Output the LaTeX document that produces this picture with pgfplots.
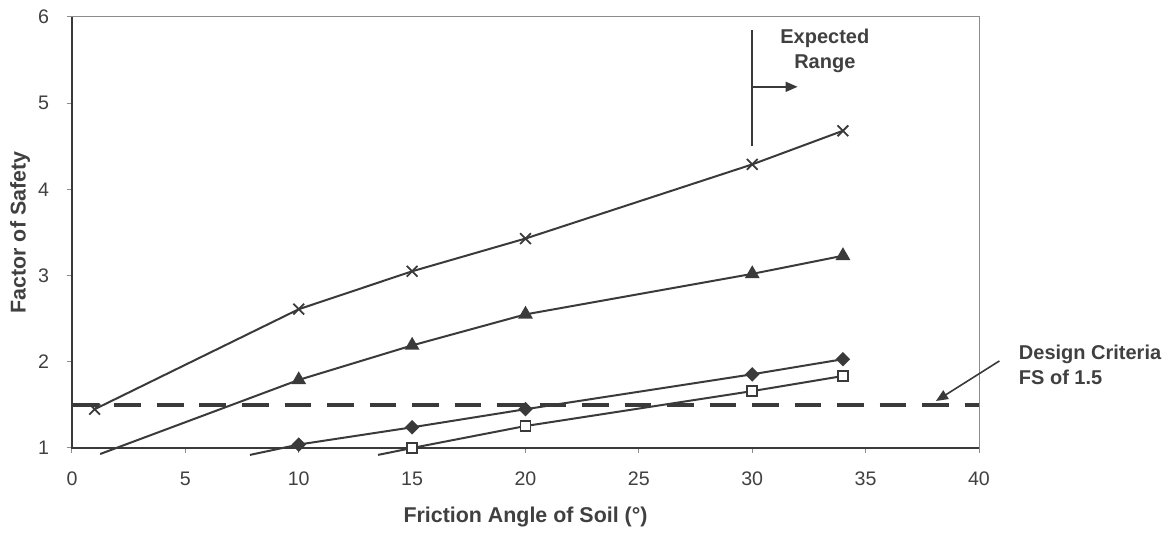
\documentclass[border=0pt]{standalone}
\usepackage{pgfplots}
\pgfplotsset{compat=1.18}
\usepackage{fontspec}
\setmainfont{Liberation Sans}
\usetikzlibrary{arrows.meta}
\definecolor{ink}{HTML}{3A3A3A}
\definecolor{txt}{HTML}{404040}
\definecolor{frame}{HTML}{8C8C8C}
\begin{document}
\begin{tikzpicture}
\begin{axis}[
  scale only axis, width=453.5pt, height=215.5pt,
  xmin=0, xmax=40, ymin=1, ymax=6,
  xtick={0,5,...,40}, ytick={1,2,...,6},
  xtick pos=bottom, ytick pos=left,
  tick align=outside, major tick length=2.5pt,
  tick style={color=frame, line width=0.5pt},
  axis line style={color=frame, line width=0.5pt},
  clip=false,
  /pgf/number format/assume math mode=true,
  ticklabel style={font=\fontsize{9.8}{11}\selectfont, text=txt},
  xticklabel style={yshift=-6pt},
  yticklabel style={xshift=-5.5pt},
  xlabel={Friction Angle of Soil (°)},
  ylabel={Factor of Safety},
  label style={font=\bfseries\fontsize{10.7}{12}\selectfont, text=txt},
  xlabel style={at={(axis description cs:0.5,-0.16)}, anchor=center},
  ylabel style={at={(axis description cs:-0.0573,0.5)}, anchor=center},
]
% design criterion
\addplot[ink, line width=2.3pt, dash pattern=on 13.3pt off 7.95pt] coordinates {(0,1.5) (40,1.5)};
% series (first point of some series is where the line leaves the plot area)
\addplot[ink, line width=1pt, mark=x, mark size=3.8pt, mark options={line width=0.9pt}]
  coordinates {(1,1.45) (10,2.61) (15,3.05) (20,3.43) (30,4.29) (34,4.68)};
\addplot[ink, line width=1pt, mark=triangle*, mark size=3.3pt, mark indices={2,3,4,5,6}, mark options={fill=ink}]
  coordinates {(1.24,0.93) (10,1.79) (15,2.19) (20,2.55) (30,3.02) (34,3.23)};
\addplot[ink, line width=1pt, mark=square*, mark size=2.05pt, mark indices={2,3,4,5,6}, mark options={fill=ink, rotate=45}]
  coordinates {(7.85,0.92) (10,1.04) (15,1.24) (20,1.45) (30,1.855) (34,2.03)};
\addplot[ink, line width=1pt, mark=square*, mark size=2.5pt, mark indices={2,3,4,5}, mark options={fill=white, line width=0.9pt}]
  coordinates {(13.5,0.92) (15,1.0) (20,1.255) (30,1.66) (34,1.835)};
% darker left and bottom axis lines
\draw[ink, line width=0.6pt] (rel axis cs:0,1) -- (rel axis cs:0,0) -- (rel axis cs:1,0);
% annotations
\draw[ink, line width=0.8pt] (axis cs:30,4.5) -- (axis cs:30,5.85);
\draw[ink, line width=0.8pt, -{Triangle[length=6pt,width=5pt]}] (axis cs:30,5.19) -- (axis cs:32,5.19);
\node[font=\bfseries\fontsize{10}{12.5}\selectfont, text=txt, align=center] at (axis cs:33.2,5.61) {Expected\\Range};
\node[font=\bfseries\fontsize{10}{12.5}\selectfont, text=txt, align=left, anchor=west] at (axis cs:41.45,1.96) {Design Criteria\\FS of 1.5};
\draw[ink, line width=0.8pt, -{Triangle[length=6pt,width=5pt]}] (axis cs:40.9,2.01) -- (axis cs:38.1,1.545);
\end{axis}
\path (current axis.south west) +(-36pt,-43.5pt) rectangle +(548pt,224pt);
\end{tikzpicture}
\end{document}
